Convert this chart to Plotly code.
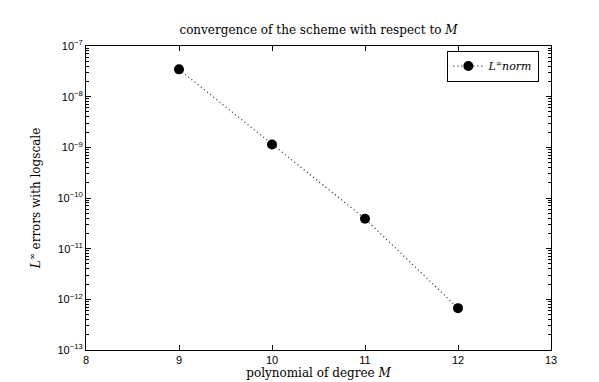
import plotly.graph_objects as go

# data
degree_M = [9, 10, 11, 12]
linf_error = [3.46e-8, 1.14e-9, 3.9e-11, 6.7e-13]
y_exponents = [-13, -12, -11, -10, -9, -8, -7]
x_ticks = [8, 9, 10, 11, 12, 13]

SERIF = "DejaVu Serif, Liberation Serif, serif"
SANS = "Liberation Sans, Arial, sans-serif"

y_decades = [10.0 ** e for e in y_exponents]
y_labels = ["10<sup>\u2212%d</sup>" % -e for e in y_exponents]
# minor tick positions 2..9 inside each decade
y_minor = [k * 10.0 ** e for e in y_exponents[:-1] for k in range(2, 10)]

fig = go.Figure()
fig.add_trace(go.Scatter(
    x=degree_M, y=linf_error, mode="lines+markers",
    name="<i>L</i><sup>\u221e</sup><i>norm</i>",
    line=dict(color="#222", width=1.2, dash="1px,3px"),
    marker=dict(color="black", size=10),
))
# invisible helper trace so the minor-tick axis gets drawn
fig.add_trace(go.Scatter(x=[8], y=[1e-10], yaxis="y2", mode="markers",
                         marker=dict(opacity=0), showlegend=False, hoverinfo="skip"))

tick_font = dict(family=SANS, size=11, color="black")
label_font = dict(family=SERIF, size=12, color="black")

fig.update_layout(
    width=599, height=382,
    paper_bgcolor="white", plot_bgcolor="white",
    margin=dict(l=78, r=56, t=38, b=33),
    title=dict(text="convergence of the scheme with respect to <i>M</i>",
               x=(78 + 543) / 2 / 599, xanchor="center", y=1 - 22 / 382, yanchor="middle",
               font=label_font),
    showlegend=True,
    legend=dict(x=0.975, y=0.985, xanchor="right", yanchor="top",
                bgcolor="white", bordercolor="black", borderwidth=1,
                font=dict(family=SERIF, size=11, color="black"),
                itemwidth=30, tracegroupgap=0),
    xaxis=dict(
        range=[8, 13], tickvals=x_ticks, ticktext=[str(v) for v in x_ticks],
        showgrid=False, zeroline=False,
        showline=True, linecolor="black", linewidth=1, mirror="ticks",
        ticks="inside", ticklen=5, tickcolor="black", tickwidth=1, tickfont=tick_font,
        title=dict(text="polynomial of degree <i>M</i>", standoff=3, font=label_font),
    ),
    yaxis=dict(
        type="log", range=[-13, -7], tickvals=y_decades, ticktext=y_labels,
        showgrid=False, zeroline=False,
        showline=True, linecolor="black", linewidth=1, mirror="ticks",
        ticks="inside", ticklen=5, tickcolor="black", tickwidth=1, tickfont=tick_font,
        title=dict(text="<i>L</i><sup>\u221e</sup> errors with logscale", standoff=14,
                   font=label_font),
    ),
    yaxis2=dict(
        type="log", range=[-13, -7], overlaying="y", side="left",
        tickvals=y_minor, ticktext=[""] * len(y_minor),
        ticks="inside", ticklen=3, tickcolor="black", tickwidth=1, mirror="ticks",
        showline=False, showgrid=False, zeroline=False,
    ),
)

fig.write_html("out.html")
